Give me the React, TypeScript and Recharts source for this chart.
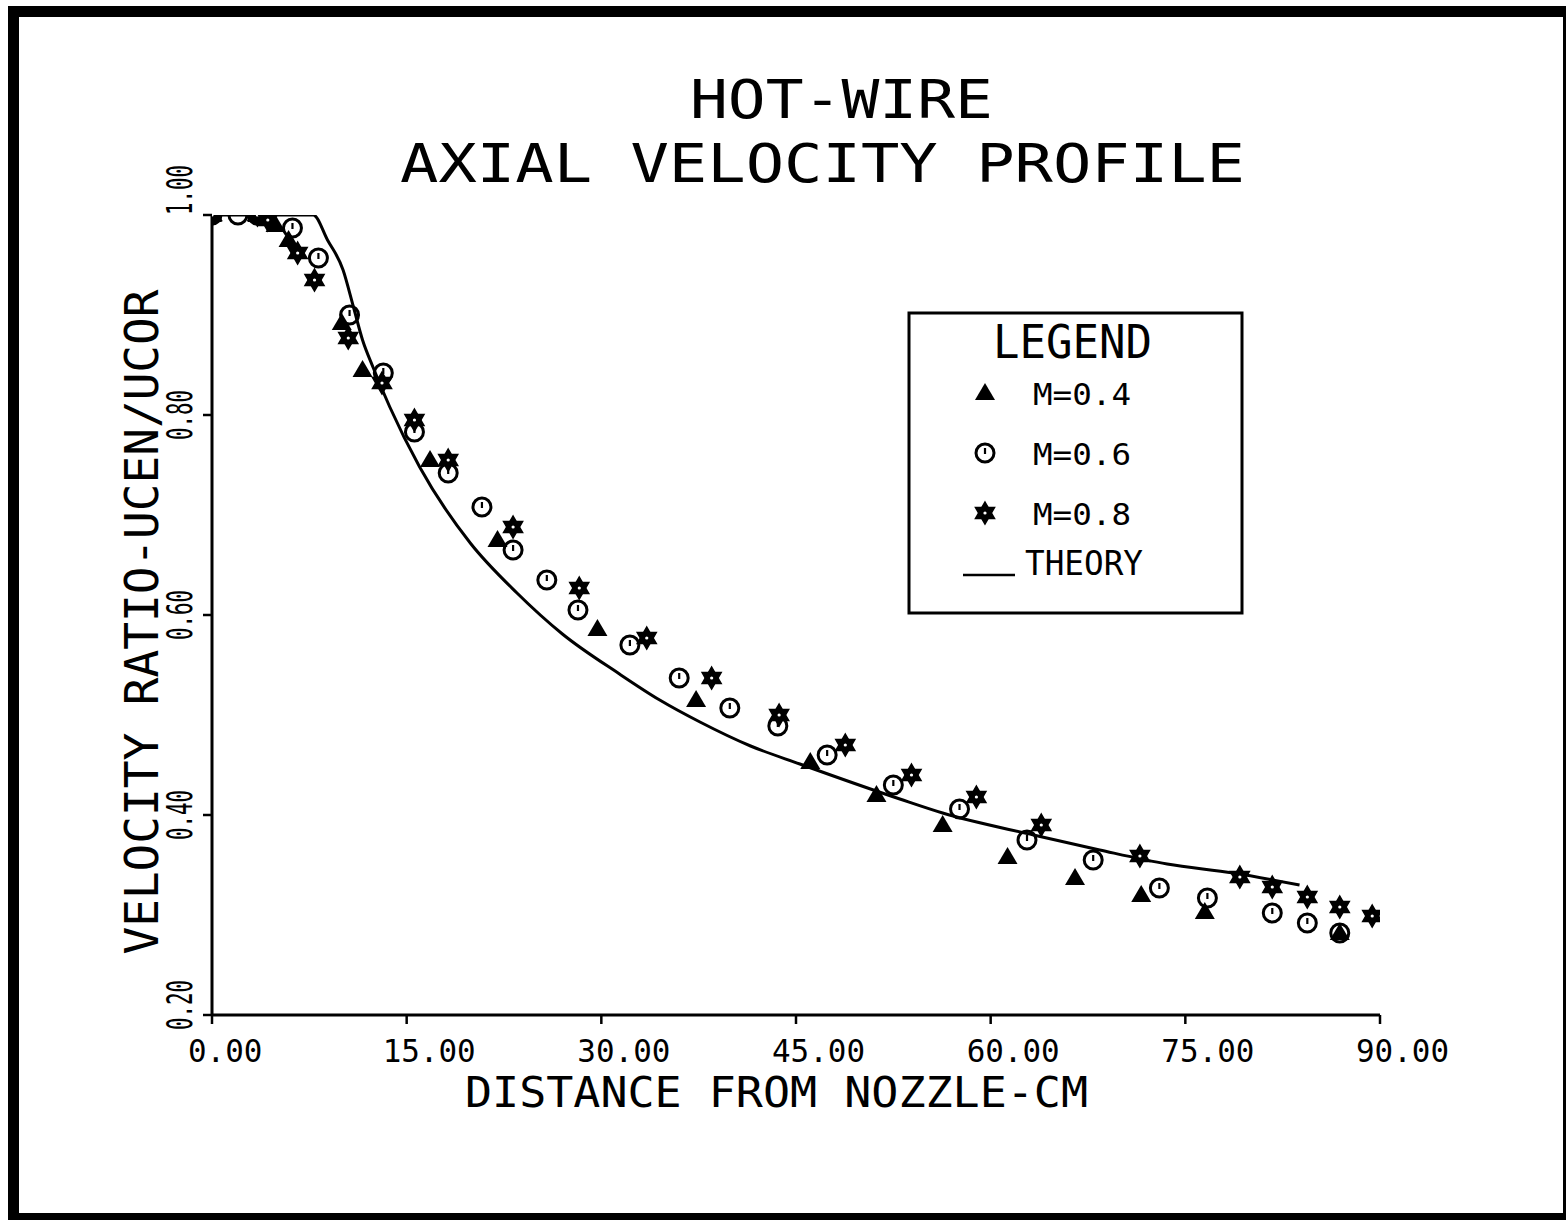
import { ComposedChart, Line, Scatter, XAxis, YAxis, Customized } from 'recharts';

// distance (cm) and velocity ratio
const theoryX = [0, 7.8, 8.9, 10.1, 10.9, 11.6, 12.4, 13.7, 16.0, 19.9, 23.5, 27.0, 31.4, 34.5, 37.6, 41.5, 45.3, 53.0, 56.3, 63.3, 68.4, 73.6, 78.7, 83.8];
const theoryY = [1.0, 1.0, 0.975, 0.945, 0.908, 0.875, 0.848, 0.808, 0.748, 0.672, 0.622, 0.581, 0.541, 0.515, 0.493, 0.469, 0.451, 0.416, 0.402, 0.38, 0.365, 0.351, 0.342, 0.33];

const m04X = [0, 3.5, 4.9, 5.9, 10.0, 11.6, 16.8, 22.0, 29.7, 37.3, 46.1, 51.2, 56.3, 61.3, 66.5, 71.6, 76.5, 86.9];
const m04Y = [1.0, 1.0, 0.99, 0.975, 0.892, 0.845, 0.755, 0.675, 0.586, 0.515, 0.453, 0.42, 0.39, 0.358, 0.337, 0.32, 0.303, 0.282];

const m06X = [0, 2.0, 3.5, 6.2, 8.2, 10.6, 13.2, 15.6, 18.2, 20.8, 23.2, 25.8, 28.2, 32.2, 36.0, 39.9, 43.6, 47.4, 52.5, 57.6, 62.8, 67.9, 73.0, 76.7, 81.7, 84.4, 86.9];
const m06Y = [1.0, 1.0, 1.0, 0.987, 0.957, 0.9, 0.842, 0.783, 0.742, 0.708, 0.665, 0.635, 0.605, 0.57, 0.537, 0.507, 0.489, 0.46, 0.43, 0.406, 0.375, 0.355, 0.327, 0.317, 0.302, 0.292, 0.282];

const m08X = [0, 3.5, 4.3, 6.6, 7.9, 10.5, 13.1, 15.6, 18.2, 23.2, 28.3, 33.5, 38.5, 43.7, 48.8, 53.9, 58.9, 63.9, 71.5, 79.2, 81.7, 84.4, 86.9, 89.4];
const m08Y = [1.0, 1.0, 0.995, 0.962, 0.935, 0.877, 0.832, 0.795, 0.755, 0.688, 0.627, 0.577, 0.537, 0.5, 0.47, 0.44, 0.418, 0.39, 0.359, 0.338, 0.328, 0.318, 0.308, 0.299];

const xTicks = [0, 15, 30, 45, 60, 75, 90];
const yTicks = [0.2, 0.4, 0.6, 0.8, 1.0];
const seriesNames = ['M=0.4', 'M=0.6', 'M=0.8'];

const zip = (xs: number[], ys: number[]) => xs.map((x, i) => ({ x, y: ys[i] }));
const theoryData = zip(theoryX, theoryY);
const m04Data = zip(m04X, m04Y);
const m06Data = zip(m06X, m06Y);
const m08Data = zip(m08X, m08Y);

const FONT = '"DejaVu Sans Mono", monospace';
const INK = '#000';

const triangle = (cx: number, cy: number) => (
  <polygon points={`${cx},${cy - 10} ${cx - 10},${cy + 7} ${cx + 10},${cy + 7}`} fill={INK} />
);

const circle = (cx: number, cy: number) => (
  <g>
    <circle cx={cx} cy={cy} r={9} fill="none" stroke={INK} strokeWidth={3} />
    <line x1={cx} y1={cy - 5} x2={cx} y2={cy + 1} stroke={INK} strokeWidth={2.2} />
  </g>
);

const star = (cx: number, cy: number) => {
  const r = 11;
  const pts = (a0: number) =>
    [0, 1, 2].map((k) => {
      const a = a0 + (k * 2 * Math.PI) / 3;
      return `${cx + r * Math.cos(a)},${cy + r * Math.sin(a)}`;
    }).join(' ');
  return (
    <g>
      <polygon points={pts(-Math.PI / 2)} fill={INK} stroke={INK} strokeWidth={1.5} />
      <polygon points={pts(Math.PI / 2)} fill={INK} stroke={INK} strokeWidth={1.5} />
      <circle cx={cx} cy={cy} r={1.6} fill="#fff" />
    </g>
  );
};

const TriShape = (p: any) => triangle(p.cx, p.cy);
const CircShape = (p: any) => circle(p.cx, p.cy);
const StarShape = (p: any) => star(p.cx, p.cy);

const XTick = (p: any) => {
  const label = p.payload.value.toFixed(2);
  return (
    <text x={p.x - 24} y={1062} fontFamily={FONT} fontSize={32} fill={INK}
      textLength={label.length * 18.6} lengthAdjust="spacingAndGlyphs">
      {label}
    </text>
  );
};

const YTick = (p: any) => {
  const v = p.payload.value;
  const label = v.toFixed(2);
  const shift = v === 1 ? -25 : v === 0.2 ? -10 : 0;
  return (
    <text transform={`translate(192, ${p.y + shift}) rotate(-90)`} textAnchor="middle"
      fontFamily={FONT} fontSize={36} fill={INK}
      textLength={50} lengthAdjust="spacingAndGlyphs">
      {label}
    </text>
  );
};

const Txt = ({ x, y, len, size, children, anchor = 'start' }: any) => (
  <text x={x} y={y} fontFamily={FONT} fontSize={size} fill={INK} textAnchor={anchor}
    textLength={len} lengthAdjust="spacingAndGlyphs">
    {children}
  </text>
);

const Decorations = () => {
  const marks = [triangle, circle, star];
  return (
    <g>
      <Txt x={690} y={118} len={303} size={54}>HOT-WIRE</Txt>
      <Txt x={400} y={182} len={845} size={54}>AXIAL VELOCITY PROFILE</Txt>
      <Txt x={465} y={1107} len={623} size={43}>DISTANCE FROM NOZZLE-CM</Txt>
      <text transform="translate(158, 622) rotate(-90)" textAnchor="middle" fontFamily={FONT}
        fontSize={46} fill={INK} textLength={665} lengthAdjust="spacingAndGlyphs">
        VELOCITY RATIO-UCEN/UCOR
      </text>

      {/* legend box */}
      <rect x={909} y={313} width={333} height={300} fill="none" stroke={INK} strokeWidth={3} />
      <Txt x={993} y={358} len={159} size={46}>LEGEND</Txt>
      {seriesNames.map((name, i) => (
        <g key={name}>
          {marks[i](985, 393 + i * 60)}
          <Txt x={1033} y={405 + i * 60} len={98} size={31}>{name}</Txt>
        </g>
      ))}
      <line x1={963} y1={575} x2={1015} y2={575} stroke={INK} strokeWidth={2.5} />
      <Txt x={1025} y={575} len={118} size={34}>THEORY</Txt>
    </g>
  );
};

export default function App() {
  return (
    <div style={{ position: 'absolute', left: 0, top: 0, width: 1568, height: 1220, background: '#fff' }}>
      <div style={{
        position: 'absolute', left: 8, top: 6, width: 1558, height: 1214, boxSizing: 'border-box',
        borderLeft: '11px solid #000', borderTop: '11px solid #000',
        borderRight: '3px solid #000', borderBottom: '7px solid #000',
      }} />
      <div style={{ position: 'absolute', left: 0, top: 0 }}>
        <ComposedChart width={1568} height={1220}
          margin={{ top: 215, right: 188, bottom: 145, left: 152 }}>
          <XAxis dataKey="x" type="number" domain={[0, 90]} ticks={xTicks} allowDataOverflow
            height={60} tickSize={9} tickMargin={0} interval={0}
            axisLine={{ stroke: INK, strokeWidth: 3 }} tickLine={{ stroke: INK, strokeWidth: 2.5 }}
            tick={XTick} />
          <YAxis type="number" domain={[0.2, 1.0]} ticks={yTicks} allowDataOverflow
            width={60} tickSize={9} tickMargin={0} interval={0}
            axisLine={{ stroke: INK, strokeWidth: 3 }} tickLine={{ stroke: INK, strokeWidth: 2.5 }}
            tick={YTick} />
          <Line data={theoryData} dataKey="y" type="monotone" stroke={INK} strokeWidth={3}
            dot={false} activeDot={false} isAnimationActive={false} />
          <Scatter data={m06Data} dataKey="y" shape={CircShape} isAnimationActive={false} />
          <Scatter data={m04Data} dataKey="y" shape={TriShape} isAnimationActive={false} />
          <Scatter data={m08Data} dataKey="y" shape={StarShape} isAnimationActive={false} />
          <Customized component={Decorations} />
        </ComposedChart>
      </div>
    </div>
  );
}
